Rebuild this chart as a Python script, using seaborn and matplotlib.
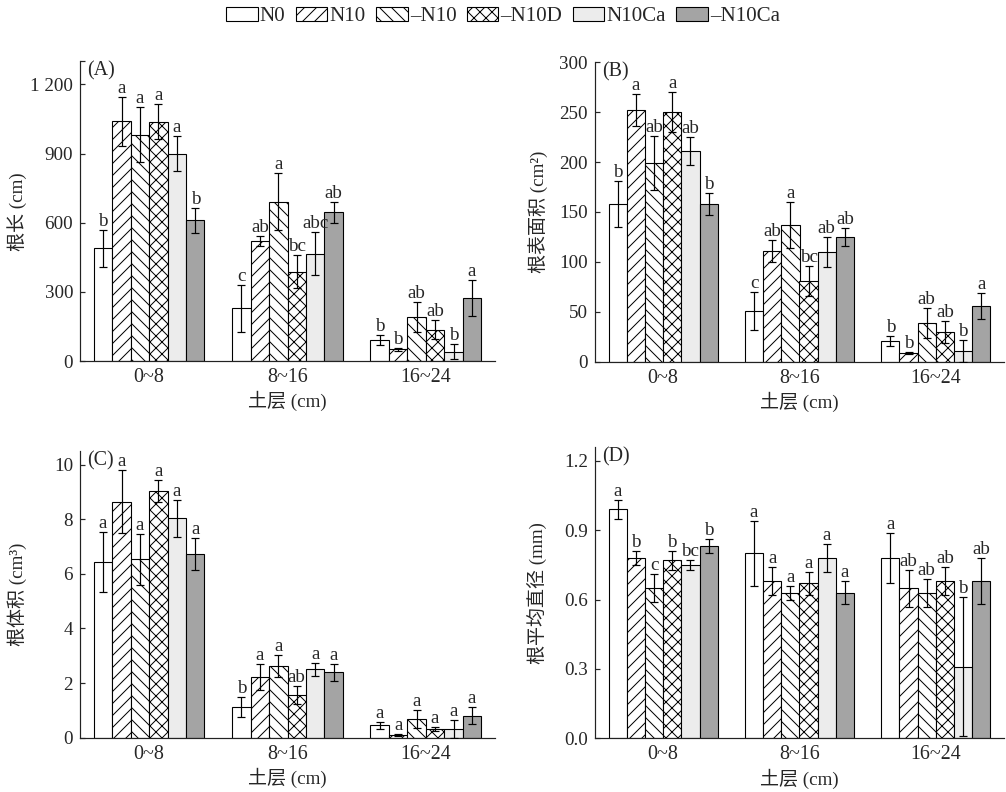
import numpy as np
import pandas as pd
import matplotlib
matplotlib.use("Agg")
import matplotlib.pyplot as plt
import seaborn as sns
from matplotlib.patches import Patch

layers = ["0~8", "8~16", "16~24"]
treatments = ["N0", "N10", "–N10", "–N10D", "N10Ca", "–N10Ca"]

# (A) root length (cm): one row per soil layer, values in treatment order
length_mean = [[490, 1040, 982, 1038, 900, 610],
               [228, 520, 692, 388, 466, 645],
               [90, 50, 190, 136, 40, 275]]
length_err = [[80, 105, 120, 75, 77, 55],
              [100, 22, 123, 70, 92, 46],
              [22, 8, 65, 40, 32, 78]]
length_sig = [["b", "a", "a", "a", "a", "b"],
              ["c", "ab", "a", "bc", "abc", "ab"],
              ["b", "b", "ab", "ab", "b", "a"]]

# (B) root surface area (cm2)
area_mean = [[158, 252, 199, 250, 211, 158],
             [51, 111, 137, 81, 110, 125],
             [21, 9, 39, 30, 11, 56]]
area_err = [[23, 16, 27, 20, 14, 11],
            [19, 11, 23, 15, 15, 9],
            [5, 1, 15, 11, 11, 13]]
area_sig = [["b", "a", "ab", "a", "ab", "b"],
            ["c", "ab", "a", "bc", "ab", "ab"],
            ["b", "b", "ab", "ab", "b", "a"]]

# (C) root volume (cm3)
volume_mean = [[6.45, 8.65, 6.53, 9.02, 8.03, 6.73],
               [1.12, 2.23, 2.62, 1.57, 2.51, 2.40],
               [0.45, 0.10, 0.69, 0.33, 0.31, 0.81]]
volume_err = [[1.1, 1.15, 0.93, 0.4, 0.68, 0.58],
              [0.37, 0.47, 0.41, 0.32, 0.24, 0.31],
              [0.13, 0.02, 0.34, 0.08, 0.33, 0.30]]
volume_sig = [["a", "a", "a", "a", "a", "a"],
              ["b", "a", "a", "ab", "a", "a"],
              ["a", "a", "a", "a", "a", "a"]]

# (D) mean root diameter (mm)
diam_mean = [[0.99, 0.78, 0.65, 0.77, 0.75, 0.83],
             [0.80, 0.68, 0.63, 0.67, 0.78, 0.63],
             [0.78, 0.65, 0.63, 0.68, 0.31, 0.68]]
diam_err = [[0.04, 0.03, 0.06, 0.04, 0.02, 0.03],
            [0.14, 0.06, 0.03, 0.05, 0.06, 0.05],
            [0.11, 0.08, 0.06, 0.06, 0.30, 0.10]]
diam_sig = [["a", "b", "c", "b", "bc", "b"],
            ["a", "a", "a", "a", "a", "a"],
            ["a", "ab", "ab", "ab", "b", "ab"]]

sns.set_style("ticks")
plt.rcParams["font.family"] = ["Liberation Serif", "Noto Sans CJK SC"]
plt.rcParams["hatch.linewidth"] = 1.0
plt.rcParams["axes.linewidth"] = 1.2
plt.rcParams["axes.edgecolor"] = "#222222"

facecolors = ["white", "white", "white", "white", "#ececec", "#a4a4a4"]
hatches = ["", "//", "\\\\", "xx", "", ""]

DPI = 72
fig = plt.figure(figsize=(1006 / DPI, 792 / DPI), dpi=DPI)

W, H = 1006, 792
def frac(l, r, top, bot):
    return [l / W, 1 - bot / H, (r - l) / W, (bot - top) / H]

axA = fig.add_axes(frac(80, 495, 61.4, 361))
axB = fig.add_axes(frac(595, 1004, 62.3, 361.7))
axC = fig.add_axes(frac(80, 495, 451, 737.7))
axD = fig.add_axes(frac(595, 1004, 447, 738.3))


def draw(ax, mean, err, sig, ylim, yticks, yticklabels, ylabel, tag, ylab_x):
    df = pd.DataFrame({
        "layer": np.repeat(layers, len(treatments)),
        "treatment": treatments * len(layers),
        "value": np.ravel(mean),
    })
    sns.barplot(data=df, x="layer", y="value", hue="treatment", order=layers,
                hue_order=treatments, errorbar=None, ax=ax, legend=False,
                width=0.8, palette=dict(zip(treatments, facecolors)),
                saturation=1, edgecolor="black", linewidth=1.1)
    conts = list(ax.containers)
    for j, cont in enumerate(conts):
        for i, bar in enumerate(cont.patches):
            bar.set_facecolor(facecolors[j])
            bar.set_edgecolor("black")
            bar.set_hatch(hatches[j])
            x = bar.get_x() + bar.get_width() / 2
            m = mean[i][j]
            e = err[i][j]
            ax.errorbar(x, m, yerr=e, color="black", elinewidth=1.2,
                        capsize=4, capthick=1.2, zorder=5)
            ax.annotate(sig[i][j], (x, m + e), xytext=(0, 0),
                        textcoords="offset points", ha="center", va="bottom",
                        fontsize=19)
    ax.set_xlim(-0.5, 2.5)
    ax.set_ylim(*ylim)
    ax.set_yticks(yticks)
    ax.set_yticklabels(yticklabels)
    ax.tick_params(axis="y", direction="in", length=5, width=1.2, pad=7,
                   labelsize=19)
    ax.tick_params(axis="x", length=0, pad=7, labelsize=20)
    sns.despine(ax=ax)
    ax.set_xlabel("土层 (cm)", fontsize=19, labelpad=4)
    ax.set_ylabel(ylabel, fontsize=19)
    ax.yaxis.set_label_coords(ylab_x, 0.5)
    ax.text(0.018, 1.0, tag, transform=ax.transAxes, ha="left", va="top",
            fontsize=20)


draw(axA, length_mean, length_err, length_sig, (0, 1300),
     [0, 300, 600, 900, 1200, 1300], ["0", "300", "600", "900", "1 200", ""],
     "根长 (cm)", "(A)", -0.128)
draw(axB, area_mean, area_err, area_sig, (0, 300),
     [0, 50, 100, 150, 200, 250, 300],
     ["0", "50", "100", "150", "200", "250", "300"],
     "根表面积 (cm²)", "(B)", -0.115)
draw(axC, volume_mean, volume_err, volume_sig, (0, 10.5),
     [0, 2, 4, 6, 8, 10], ["0", "2", "4", "6", "8", "10"],
     "根体积 (cm³)", "(C)", -0.128)
draw(axD, diam_mean, diam_err, diam_sig, (0, 1.26),
     [0, 0.3, 0.6, 0.9, 1.2], ["0.0", "0.3", "0.6", "0.9", "1.2"],
     "根平均直径 (mm)", "(D)", -0.115)

handles = [Patch(facecolor=fc, edgecolor="black", hatch=h, linewidth=1.1)
           for fc, h in zip(facecolors, hatches)]
fig.legend(handles, treatments, loc="upper center", bbox_to_anchor=(0.5, 1.005),
           ncol=6, frameon=False, fontsize=21, handlelength=1.5,
           handleheight=0.7, handletextpad=0.1, columnspacing=0.5,
           borderaxespad=0.1)

fig.savefig("out.png", dpi=DPI)
